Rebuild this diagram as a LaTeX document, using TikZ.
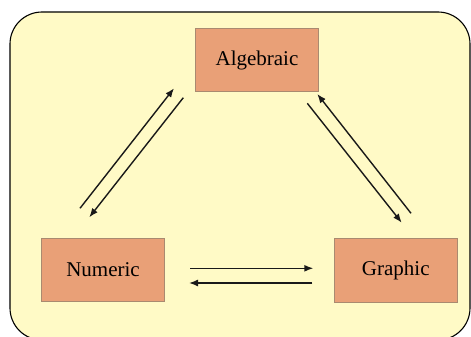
\documentclass[tikz,border=0pt]{standalone}
\usepackage{fontspec}
\setmainfont{Liberation Serif}
\usetikzlibrary{arrows.meta}
\definecolor{bgyellow}{HTML}{FFFAC6}
\definecolor{boxfill}{HTML}{E9A077}
\definecolor{boxline}{HTML}{A98A70}
\tikzset{
  rep/.style={draw=boxline, line width=0.8pt, fill=boxfill, minimum width=123pt, minimum height=63.5pt, inner sep=0pt, font=\fontsize{21}{24}\selectfont},
  conn/.style={draw=black!90, line width=1.4pt, -{Latex[length=9pt,width=7pt]}}
}
\begin{document}
\begin{tikzpicture}[x=1pt,y=-1pt]
\useasboundingbox (0,0) rectangle (471,337);
\draw[fill=bgyellow, line width=1.1pt, rounded corners=32pt] (10,12) rectangle (470,340);
\node[rep] (alg) at (257,60) {Algebraic};
\node[rep] (num) at (103,269.7) {Numeric};
\node[rep] (gra) at (395.8,270.3) {Graphic};
% left pair
\coordinate (l1s) at (80,208.3);
\coordinate (l1e) at (174,88.3);
\coordinate (l2s) at (183.3,97.7);
\coordinate (l2e) at (89.3,217.3);
\draw[conn] (l1s) -- (l1e);
\draw[conn] (l2s) -- (l2e);
% right pair
\coordinate (r1s) at (307.3,103.3);
\coordinate (r1e) at (401.7,222.7);
\coordinate (r2s) at (411,213.3);
\coordinate (r2e) at (317.3,94);
\draw[conn] (r1s) -- (r1e);
\draw[conn] (r2s) -- (r2e);
% bottom pair
\coordinate (b1s) at (190,268.3);
\coordinate (b1e) at (313.3,268.3);
\coordinate (b2s) at (312.3,283);
\coordinate (b2e) at (189,283);
\draw[conn] (b1s) -- (b1e);
\draw[conn] (b2s) -- (b2e);
\end{tikzpicture}
\end{document}
